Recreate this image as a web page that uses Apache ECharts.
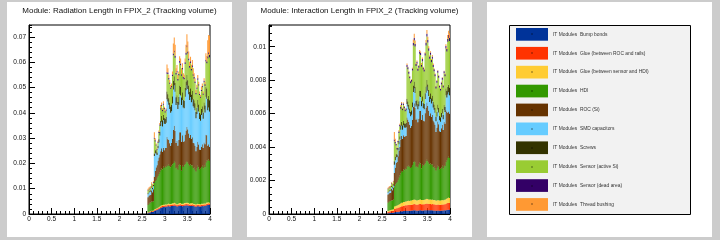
<!DOCTYPE html>
<html>
<head>
<meta charset="utf-8">
<script src="https://cdn.jsdelivr.net/npm/echarts@6/dist/echarts.min.js"></script>
<style>html,body{margin:0;padding:0;background:#cccccc}#c{width:720px;height:240px}</style>
</head>
<body>
<div id="c"></div>
<script>
// ---- binning: 200 bins of 0.02 in eta from 0 to 4; non-empty bins start at 2.62 (bin 131)
const etaMin = 0, etaMax = 4, nBins = 200, firstFilledBin = 131;
const xTickInterval = 0.5;

const seriesNames = [
  'IT Modules  Bump bonds',
  'IT Modules  Glue (between ROC and rails)',
  'IT Modules  Glue (between sensor and HDI)',
  'IT Modules  HDI',
  'IT Modules  ROC (Si)',
  'IT Modules  SMD capacitors',
  'IT Modules  Screws',
  'IT Modules  Sensor (active Si)',
  'IT Modules  Sensor (dead area)',
  'IT Modules  Thread bushing'
];
const seriesColors = ['#003399','#ff3300','#ffcc33','#339900','#663300','#66ccff','#333300','#99cc33','#330066','#ff9933'];

const titleX0 = 'Module: Radiation Length in FPIX_2 (Tracking volume)';
const titleL0 = 'Module: Interaction Length in FPIX_2 (Tracking volume)';

// ---- Radiation length (x/X0), bins eta = 2.62 ... 3.98
const x0Bump = [.0003,.0005,.0006,.0007,.0008,.0008,.0009,
 .0012,.0014,.0015,.0016,.0018,.0020,.0022,.0024,.0026,.0027,.0028,.0028,.0030,.0029,
 .0030,.0031,.0032,.0030,.0031,.0032,.0032,.0033,.0034,.0033,
 .0032,.0030,.0031,.0032,.0033,.0034,.0032,.0031,.0032,.0033,
 .0034,.0034,.0035,.0034,.0033,.0032,.0033,.0032,.0033,.0032,
 .0031,.0030,.0029,.0030,.0032,.0031,.0030,.0030,.0031,.0032,
 .0031,.0033,.0032,.0034,.0035,.0036,.0037,.0036];
const x0GlueRoc = [.0002,.0002,.0002,.0003,.0003,.0003,.0003,
 .0003,.0003,.0004,.0004,.0004,.0004,.0004,.0005,.0005,.0005,.0005,.0005,.0005,.0005,
 .0005,.0005,.0006,.0005,.0005,.0005,.0006,.0005,.0005,.0006,
 .0005,.0005,.0005,.0006,.0005,.0005,.0005,.0006,.0005,.0005,
 .0005,.0006,.0005,.0005,.0006,.0005,.0005,.0005,.0006,.0005,
 .0005,.0005,.0005,.0006,.0005,.0005,.0005,.0005,.0006,.0005,
 .0005,.0006,.0005,.0005,.0006,.0005,.0005,.0005];
const x0GlueSensor = [.0001,.0002,.0002,.0002,.0002,.0002,.0002,
 .0003,.0003,.0003,.0003,.0003,.0004,.0004,.0004,.0004,.0004,.0004,.0004,.0004,.0004,
 .0004,.0004,.0004,.0005,.0004,.0004,.0004,.0004,.0005,.0004,
 .0004,.0004,.0004,.0004,.0005,.0004,.0004,.0004,.0004,.0005,
 .0004,.0004,.0004,.0005,.0004,.0004,.0004,.0005,.0004,.0004,
 .0004,.0005,.0004,.0004,.0004,.0004,.0005,.0004,.0004,.0004,
 .0005,.0004,.0004,.0004,.0005,.0004,.0004,.0004];
const x0Hdi = [.0030,.0032,.0034,.0033,.0036,.0035,.0036,
 .0105,.0110,.0112,.0120,.0125,.0130,.0135,.0140,.0145,.0140,.0150,.0145,.0150,.0148,
 .0155,.0150,.0155,.0150,.0145,.0150,.0155,.0160,.0165,.0160,
 .0140,.0145,.0135,.0150,.0155,.0150,.0130,.0150,.0145,.0150,
 .0155,.0160,.0165,.0160,.0155,.0150,.0155,.0150,.0150,.0140,
 .0145,.0135,.0130,.0140,.0150,.0145,.0135,.0140,.0145,.0150,
 .0140,.0150,.0145,.0160,.0165,.0165,.0170,.0165];
const x0Roc = [.0030,.0032,.0030,.0031,.0044,.0038,.0048,
 .0024,.0040,.0050,.0050,.0060,.0065,.0070,.0075,.0080,.0070,.0075,.0070,.0072,.0075,
 .0110,.0105,.0095,.0090,.0085,.0090,.0100,.0130,.0140,.0125,
 .0100,.0105,.0095,.0100,.0125,.0130,.0115,.0120,.0100,.0095,
 .0115,.0125,.0135,.0130,.0120,.0110,.0115,.0105,.0110,.0100,
 .0095,.0095,.0080,.0085,.0095,.0090,.0080,.0075,.0080,.0085,
 .0080,.0090,.0090,.0110,.0100,.0060,.0060,.0055];
const x0Smd = [.0012,.0012,.0014,.0013,.0012,.0012,.0012,
 .0082,.0070,.0055,.0040,.0050,.0060,.0075,.0100,.0105,.0100,.0110,.0105,.0095,.0100,
 .0150,.0150,.0140,.0135,.0130,.0125,.0140,.0160,.0160,.0155,
 .0150,.0150,.0145,.0140,.0150,.0145,.0145,.0140,.0135,.0130,
 .0150,.0160,.0165,.0160,.0155,.0150,.0150,.0145,.0150,.0145,
 .0140,.0140,.0130,.0130,.0135,.0130,.0120,.0115,.0125,.0125,
 .0115,.0130,.0125,.0150,.0145,.0140,.0145,.0140];
const x0Screws = [.0004,.0004,.0005,.0005,.0005,.0005,.0006,
 .0010,.0012,.0014,.0010,.0010,.0012,.0015,.0020,.0022,.0025,.0020,.0022,.0020,.0022,
 .0030,.0028,.0025,.0025,.0025,.0025,.0028,.0035,.0035,.0035,
 .0030,.0030,.0028,.0030,.0035,.0035,.0030,.0030,.0030,.0030,
 .0035,.0035,.0040,.0035,.0035,.0032,.0035,.0030,.0033,.0030,
 .0030,.0028,.0025,.0025,.0030,.0028,.0025,.0025,.0025,.0025,
 .0025,.0028,.0028,.0040,.0040,.0045,.0045,.0045];
const x0SensorActive = [.0010,.0008,.0008,.0009,.0008,.0008,.0008,
 .0058,.0035,.0018,.0010,.0012,.0025,.0025,.0045,.0040,.0035,.0040,.0035,.0025,.0025,
 .0070,.0080,.0075,.0075,.0070,.0070,.0080,.0100,.0095,.0100,
 .0090,.0090,.0085,.0085,.0090,.0085,.0085,.0090,.0085,.0085,
 .0095,.0105,.0110,.0105,.0100,.0095,.0100,.0095,.0095,.0090,
 .0085,.0080,.0070,.0075,.0080,.0075,.0070,.0065,.0070,.0075,
 .0070,.0080,.0078,.0100,.0100,.0160,.0165,.0170];
const x0SensorDead = [.0002,.0002,.0002,.0002,.0002,.0002,.0002,
 .0004,.0004,.0004,.0003,.0004,.0004,.0004,.0005,.0005,.0005,.0005,.0005,.0005,.0005,
 .0006,.0006,.0006,.0005,.0005,.0005,.0006,.0007,.0007,.0007,
 .0006,.0006,.0006,.0006,.0007,.0007,.0006,.0006,.0006,.0006,
 .0007,.0008,.0008,.0008,.0007,.0007,.0007,.0006,.0007,.0006,
 .0006,.0006,.0005,.0005,.0006,.0005,.0005,.0005,.0005,.0005,
 .0005,.0006,.0006,.0007,.0007,.0008,.0008,.0008];
const x0Bushing = [.0006,.0006,.0005,.0005,.0005,.0005,.0004,
 .0022,.0008,.0004,.0004,.0004,.0006,.0006,.0013,.0009,.0007,.0009,.0005,.0005,.0005,
 .0031,.0017,.0012,.0010,.0010,.0010,.0012,.0040,.0052,.0044,
 .0019,.0024,.0015,.0010,.0018,.0020,.0024,.0019,.0014,.0011,
 .0015,.0032,.0043,.0040,.0027,.0017,.0018,.0017,.0021,.0024,
 .0015,.0013,.0012,.0011,.0012,.0010,.0009,.0006,.0013,.0010,
 .0008,.0010,.0010,.0025,.0021,.0064,.0068,.0077];

// ---- Interaction length (x/L0), bins eta = 2.62 ... 3.98
const l0Bump = [.00004,.00005,.00006,.00007,.00007,.00008,.00008,
 .00010,.00011,.00012,.00012,.00013,.00014,.00015,.00016,.00017,.00017,.00018,.00018,.00019,.00019,
 .00019,.00020,.00020,.00020,.00020,.00021,.00021,.00022,.00022,.00022,
 .00021,.00020,.00021,.00021,.00022,.00022,.00021,.00021,.00021,.00022,
 .00022,.00023,.00023,.00023,.00022,.00022,.00022,.00022,.00022,.00021,
 .00021,.00021,.00020,.00020,.00021,.00021,.00020,.00020,.00021,.00021,
 .00021,.00022,.00022,.00023,.00024,.00025,.00026,.00025];
const l0GlueRoc = [.00008,.00009,.00010,.00010,.00011,.00011,.00012,
 .00020,.00021,.00022,.00023,.00024,.00025,.00026,.00028,.00029,.00030,.00031,.00032,.00033,.00033,
 .00034,.00034,.00035,.00034,.00035,.00035,.00036,.00037,.00038,.00037,
 .00036,.00036,.00036,.00037,.00038,.00038,.00037,.00037,.00037,.00037,
 .00038,.00039,.00040,.00039,.00038,.00038,.00038,.00037,.00038,.00037,
 .00037,.00036,.00035,.00035,.00036,.00036,.00035,.00035,.00036,.00036,
 .00036,.00037,.00037,.00039,.00040,.00041,.00042,.00041];
const l0GlueSensor = [.00006,.00007,.00007,.00007,.00008,.00008,.00008,
 .00015,.00015,.00016,.00016,.00017,.00018,.00019,.00020,.00021,.00021,.00022,.00022,.00023,.00023,
 .00024,.00024,.00025,.00024,.00025,.00025,.00026,.00026,.00027,.00026,
 .00026,.00025,.00026,.00026,.00027,.00027,.00026,.00026,.00026,.00026,
 .00027,.00028,.00028,.00028,.00027,.00027,.00027,.00026,.00027,.00026,
 .00026,.00026,.00025,.00025,.00026,.00025,.00025,.00025,.00025,.00026,
 .00025,.00026,.00026,.00028,.00028,.00029,.00030,.00029];
const l0Hdi = [.00050,.00052,.00054,.00053,.00056,.00055,.00057,
 .00120,.00130,.00135,.00140,.00150,.00160,.00170,.00180,.00190,.00185,.00195,.00190,.00195,.00192,
 .00210,.00205,.00210,.00205,.00195,.00200,.00210,.00225,.00230,.00225,
 .00200,.00205,.00195,.00210,.00220,.00215,.00190,.00210,.00205,.00210,
 .00215,.00225,.00235,.00225,.00220,.00210,.00215,.00210,.00210,.00195,
 .00200,.00190,.00180,.00195,.00205,.00200,.00185,.00190,.00195,.00205,
 .00190,.00205,.00200,.00220,.00230,.00240,.00245,.00240];
const l0Roc = [.00048,.00050,.00049,.00050,.00068,.00060,.00074,
 .00080,.00100,.00120,.00120,.00140,.00160,.00170,.00200,.00210,.00195,.00205,.00200,.00195,.00200,
 .00290,.00280,.00260,.00250,.00240,.00245,.00270,.00330,.00345,.00325,
 .00280,.00285,.00270,.00275,.00310,.00315,.00290,.00300,.00270,.00260,
 .00300,.00320,.00340,.00330,.00310,.00290,.00300,.00285,.00295,.00280,
 .00265,.00260,.00230,.00240,.00265,.00255,.00230,.00220,.00235,.00245,
 .00230,.00260,.00255,.00310,.00290,.00270,.00270,.00265];
const l0Smd = [.00012,.00012,.00013,.00013,.00012,.00012,.00012,
 .00050,.00045,.00035,.00030,.00035,.00040,.00045,.00060,.00060,.00055,.00060,.00055,.00050,.00052,
 .00080,.00080,.00075,.00070,.00070,.00068,.00075,.00090,.00090,.00088,
 .00080,.00080,.00078,.00075,.00085,.00082,.00080,.00078,.00075,.00072,
 .00085,.00090,.00095,.00092,.00088,.00082,.00085,.00080,.00082,.00078,
 .00075,.00072,.00065,.00068,.00072,.00070,.00065,.00062,.00066,.00068,
 .00064,.00072,.00070,.00090,.00085,.00110,.00115,.00110];
const l0Screws = [.00005,.00005,.00006,.00006,.00006,.00006,.00007,
 .00020,.00020,.00020,.00015,.00015,.00018,.00020,.00025,.00025,.00028,.00025,.00026,.00024,.00025,
 .00032,.00030,.00028,.00028,.00027,.00027,.00030,.00038,.00040,.00038,
 .00032,.00032,.00030,.00030,.00036,.00036,.00032,.00032,.00030,.00030,
 .00035,.00038,.00040,.00038,.00036,.00034,.00035,.00032,.00034,.00032,
 .00030,.00029,.00026,.00027,.00029,.00028,.00026,.00026,.00027,.00027,
 .00026,.00029,.00029,.00040,.00040,.00045,.00045,.00045];
const l0SensorActive = [.00015,.00014,.00014,.00015,.00014,.00014,.00014,
 .00120,.00080,.00050,.00030,.00035,.00050,.00060,.00100,.00100,.00090,.00095,.00090,.00075,.00077,
 .00190,.00193,.00185,.00180,.00170,.00170,.00190,.00240,.00245,.00240,
 .00210,.00215,.00200,.00200,.00220,.00215,.00205,.00210,.00200,.00195,
 .00225,.00245,.00260,.00250,.00235,.00225,.00230,.00215,.00220,.00210,
 .00200,.00190,.00170,.00175,.00190,.00180,.00170,.00160,.00170,.00175,
 .00165,.00190,.00185,.00240,.00235,.00270,.00280,.00280];
const l0SensorDead = [.00003,.00003,.00003,.00003,.00003,.00003,.00003,
 .00010,.00009,.00008,.00008,.00008,.00009,.00009,.00010,.00010,.00010,.00010,.00010,.00010,.00010,
 .00012,.00012,.00012,.00011,.00011,.00011,.00012,.00015,.00015,.00015,
 .00012,.00012,.00012,.00012,.00014,.00014,.00012,.00013,.00012,.00012,
 .00014,.00016,.00017,.00016,.00015,.00014,.00014,.00013,.00014,.00012,
 .00012,.00012,.00011,.00011,.00012,.00011,.00011,.00010,.00011,.00011,
 .00011,.00012,.00012,.00015,.00015,.00017,.00018,.00018];
const l0Bushing = [.00006,.00006,.00005,.00005,.00005,.00005,.00004,
 .00045,.00019,.00002,.00004,.00003,.00006,.00006,.00011,.00008,.00004,.00006,.00003,.00003,.00003,
 .00009,.00002,.00003,.00003,.00003,.00003,.00005,.00020,.00025,.00022,
 .00006,.00008,.00004,.00003,.00008,.00008,.00010,.00008,.00005,.00004,
 .00006,.00016,.00022,.00019,.00012,.00006,.00007,.00006,.00008,.00009,
 .00004,.00004,.00003,.00003,.00004,.00003,.00003,.00002,.00004,.00003,
 .00003,.00004,.00004,.00010,.00008,.00023,.00024,.00027];

const x0Layers = [x0Bump,x0GlueRoc,x0GlueSensor,x0Hdi,x0Roc,x0Smd,x0Screws,x0SensorActive,x0SensorDead,x0Bushing];
const l0Layers = [l0Bump,l0GlueRoc,l0GlueSensor,l0Hdi,l0Roc,l0Smd,l0Screws,l0SensorActive,l0SensorDead,l0Bushing];

// y axis ranges and tick steps (major / minor)
const yMaxX0 = 0.0747, yStepX0 = 0.01, yMinorX0 = 0.002;
const yMaxL0 = 0.0113, yStepL0 = 0.002, yMinorL0 = 0.0004;

const categories = Array.from({length: nBins}, (_, i) => (etaMin + i * (etaMax - etaMin) / nBins).toFixed(2));
const pad = arr => new Array(firstFilledBin).fill(null).concat(arr);

const FONT = 'Liberation Sans, Arial, Helvetica, sans-serif';
const fmt = v => String(parseFloat((+v).toFixed(5)));

function xAxes(g) {
  return [
    {gridIndex: g, type: 'category', data: categories, show: false, boundaryGap: true},
    {gridIndex: g, type: 'value', min: etaMin, max: etaMax, interval: xTickInterval, position: 'bottom',
     axisLine: {show: true, lineStyle: {color: '#000', width: 1}},
     axisTick: {show: true, inside: true, length: 6, lineStyle: {color: '#000', width: 1}},
     minorTick: {show: true, splitNumber: 5, length: 3, lineStyle: {color: '#000', width: 1}},
     splitLine: {show: false}, minorSplitLine: {show: false},
     axisLabel: {fontSize: 6.5, color: '#111', margin: 2, fontFamily: FONT, formatter: fmt}}
  ];
}
function yAxes(g, max, step, minor) {
  return [
    {gridIndex: g, type: 'value', min: 0, max: max, interval: step, position: 'left',
     axisLine: {show: true, lineStyle: {color: '#000', width: 1}},
     axisTick: {show: true, inside: true, length: 6, lineStyle: {color: '#000', width: 1}},
     splitLine: {show: false},
     axisLabel: {fontSize: 6.5, color: '#111', margin: 3, fontFamily: FONT, formatter: fmt, showMaxLabel: false}},
    {gridIndex: g, type: 'value', min: 0, max: max, interval: minor, position: 'left', offset: 0,
     axisLine: {show: false},
     axisTick: {show: true, inside: true, length: 3, lineStyle: {color: '#000', width: 1}},
     splitLine: {show: false}, axisLabel: {show: false}}
  ];
}

const series = [];
seriesNames.forEach((name, i) => {
  series.push({name, type: 'bar', stack: 'x0', xAxisIndex: 0, yAxisIndex: 0,
    barCategoryGap: '0%', barGap: '0%', data: pad(x0Layers[i]),
    itemStyle: {color: seriesColors[i]}, emphasis: {disabled: true}, animation: false});
  series.push({name, type: 'bar', stack: 'l0', xAxisIndex: 2, yAxisIndex: 2,
    barCategoryGap: '0%', barGap: '0%', data: pad(l0Layers[i]),
    itemStyle: {color: seriesColors[i]}, emphasis: {disabled: true}, animation: false});
});

// legend layout (shared by the legend and its ROOT-style marker dots)
const legLeft = 516, legTop = 28, legItemW = 32, legItemH = 12.7, legGap = 6.2;
const legendDots = seriesNames.map((n, i) => ({
  type: 'rect', silent: true, z: 100,
  shape: {x: Math.round(legLeft + legItemW / 2) - 0.5, y: Math.round(legTop + i * (legItemH + legGap) + legItemH / 2) - 0.5, width: 1, height: 1},
  style: {fill: '#000'}
}));

const chart = echarts.init(document.getElementById('c'), null, {renderer: 'canvas'});
chart.setOption({
  backgroundColor: '#cccccc',
  animation: false,
  textStyle: {fontFamily: FONT},
  graphic: [
    {type: 'rect', z: -10, silent: true, shape: {x: 7, y: 2, width: 225, height: 235}, style: {fill: '#ffffff'}},
    {type: 'rect', z: -10, silent: true, shape: {x: 247, y: 2, width: 225, height: 235}, style: {fill: '#ffffff'}},
    {type: 'rect', z: -10, silent: true, shape: {x: 487, y: 2, width: 225, height: 235}, style: {fill: '#ffffff'}},
    {type: 'rect', z: -5, silent: true, shape: {x: 509.5, y: 25.5, width: 181, height: 189}, style: {fill: '#f2f2f2', stroke: '#000', lineWidth: 1}},
    {type: 'text', silent: true, x: 119.5, y: 11, style: {text: titleX0, fontSize: 8, fontFamily: FONT, fill: '#111', align: 'center', verticalAlign: 'middle'}},
    {type: 'text', silent: true, x: 359.5, y: 11, style: {text: titleL0, fontSize: 8, fontFamily: FONT, fill: '#111', align: 'center', verticalAlign: 'middle'}},
    ...legendDots
  ],
  grid: [
    {left: 29, top: 25, width: 181, height: 189, show: true, borderColor: '#000', borderWidth: 1, backgroundColor: '#fff', containLabel: false},
    {left: 269, top: 25, width: 181, height: 189, show: true, borderColor: '#000', borderWidth: 1, backgroundColor: '#fff', containLabel: false}
  ],
  xAxis: [...xAxes(0), ...xAxes(1)],
  yAxis: [...yAxes(0, yMaxX0, yStepX0, yMinorX0), ...yAxes(1, yMaxL0, yStepL0, yMinorL0)],
  legend: {
    data: seriesNames, orient: 'vertical', left: legLeft, top: legTop, padding: 0,
    itemWidth: legItemW, itemHeight: legItemH, itemGap: legGap, icon: 'rect', selectedMode: false,
    textStyle: {fontSize: 4.9, color: '#333', fontFamily: FONT}
  },
  tooltip: {show: false},
  series
});
</script>
</body>
</html>
